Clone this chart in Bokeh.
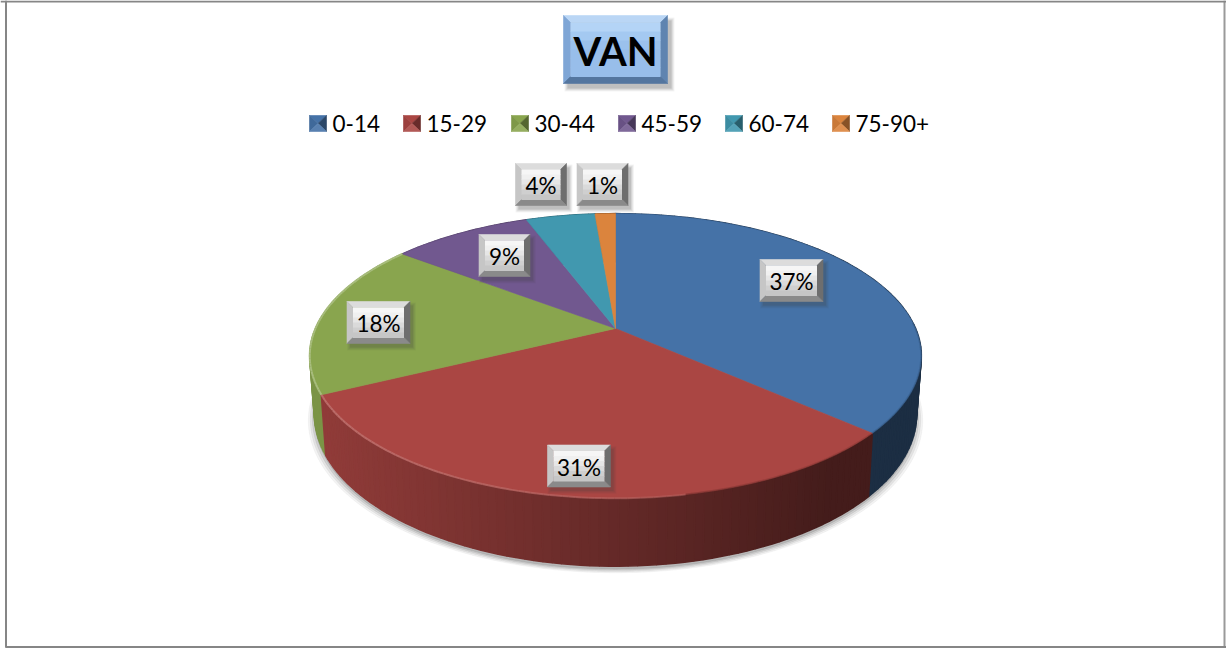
import math
from bokeh.plotting import figure
from bokeh.models import Range1d
from bokeh.core.properties import value
from bokeh.embed import file_html
from bokeh.resources import INLINE

# ---- data ----
title = "VAN"
categories = ["0-14", "15-29", "30-44", "45-59", "60-74", "75-90+"]
shares = [36.6, 31.1, 17.7, 8.9, 4.4, 1.3]
colors = ["#4572A7", "#AA4643", "#89A54E", "#71588F", "#4198AF", "#DB843D"]

# ---- layout (reference pixels) ----
W, H = 1226, 648
FONT = "Lato"
label_centres = [(791, 280), (578.5, 465.5), (378, 322), (504, 255), (540.5, 184), (602, 184)]
legend_x = [309, 403, 511, 618, 725, 832]
legend_y = 115
CX, CY, A, B, K = 615.0, 328.0, 300.0, 137.0, 0.193


def rgb(h):
    return tuple(int(h[i:i + 2], 16) for i in (1, 3, 5))


def shade(h, f):
    r = rgb(h)
    if f <= 1:
        c = [v * f for v in r]
    else:
        c = [v + (255 - v) * (f - 1) for v in r]
    return "#%02x%02x%02x" % tuple(int(round(v)) for v in c)


def top_pt(theta):
    X, Y = math.sin(theta), math.cos(theta)
    w = 1 + K * Y
    return CX + A * X / w, CY - B * Y / w


def bottom_pt(q):
    return CX + (q[0] - CX) * 0.985, CY + (q[1] - CY) * 1.07 + 56


p = figure(width=W, height=H, x_range=Range1d(0, W), y_range=Range1d(H, 0),
           toolbar_location=None, output_backend="svg", min_border=0,
           outline_line_color=None, background_fill_color="white", border_fill_color="white")
p.axis.visible = False
p.grid.visible = False


def poly(xs, ys, color, alpha=1.0, lw=0.6):
    p.patch(xs, ys, fill_color=color, fill_alpha=alpha, line_color=color, line_alpha=alpha, line_width=lw)


def rect_bevel(x0, y0, x1, y1, b, top, left, right, bottom, centre):
    poly([x0, x1, x1 - b, x0 + b], [y0, y0, y0 + b, y0 + b], top)
    poly([x0, x0 + b, x0 + b, x0], [y0, y0 + b, y1 - b, y1], left)
    poly([x1, x1 - b, x1 - b, x1], [y0, y0 + b, y1 - b, y1], right)
    poly([x0, x1, x1 - b, x0 + b], [y1, y1, y1 - b, y1 - b], bottom)
    n = len(centre)
    h = (y1 - y0 - 2 * b) / n
    for i, c in enumerate(centre):
        ya = y0 + b + i * h
        p.quad(left=x0 + b, right=x1 - b, top=ya, bottom=ya + h + 0.5, fill_color=c, line_color=None)


def soft_shadow(x0, y0, x1, y1, dx=4, dy=5):
    for g, a in ((3, 0.06), (2, 0.08), (1, 0.10), (0, 0.14)):
        p.quad(left=x0 + dx - g, right=x1 + dx + g, top=y0 + dy - g, bottom=y1 + dy + g,
               fill_color="#404040", fill_alpha=a, line_color=None)


# ---- frame ----
p.line([5.5, 5.5], [0, 647], line_color="#868686", line_width=2)
p.line([1224, 1224], [0, 647], line_color="#9a9a9a", line_width=2)
p.line([0, W], [1, 1], line_color="#868686", line_width=2)
p.line([5, W], [646.5, 646.5], line_color="#868686", line_width=2)

# ---- pie geometry from the shares ----
total = sum(shares)
edges = [0.0]
for s in shares:
    edges.append(edges[-1] + s / total * 2 * math.pi)
ring = [2 * math.pi * i / 360 for i in range(360)]

# shadow beneath the body
for g, a in ((6, 0.07), (4, 0.10), (2, 0.14), (0, 0.20)):
    pts = [bottom_pt(top_pt(t)) for t in ring]
    poly([CX + (q[0] - CX) * (1 + g / 300) for q in pts],
         [q[1] + 3 + g * 0.6 for q in pts], "#555555", a)

# side wall: small steps inside every slice, painted back to front
walls = []
for i, col in enumerate(colors):
    n = max(2, int(round((edges[i + 1] - edges[i]) / math.radians(1.5))))
    for j in range(n):
        t0 = edges[i] + (edges[i + 1] - edges[i]) * j / n
        t1 = edges[i] + (edges[i + 1] - edges[i]) * (j + 1) / n
        walls.append((math.cos((t0 + t1) / 2), i, t0, t1))
walls.sort(key=lambda w: -w[0])
for _, i, t0, t1 in walls:
    a, b = top_pt(t0), top_pt(t1)
    c, d = bottom_pt(b), bottom_pt(a)
    frac = ((a[0] + b[0]) / 2 - 310) / 612
    f = 0.86 - 0.46 * min(1.0, frac / 0.85)
    if i == 2:
        f = 0.9
    poly([a[0], b[0], c[0], d[0]], [a[1], b[1], c[1], d[1]], shade(colors[i], f), lw=1.6)

# top faces
for i, col in enumerate(colors):
    n = max(2, int(math.degrees(edges[i + 1] - edges[i])))
    arc = [top_pt(edges[i] + (edges[i + 1] - edges[i]) * j / n) for j in range(n + 1)]
    poly([CX] + [q[0] for q in arc], [CY] + [q[1] for q in arc], col)

# rim highlight along the front of the pie
for i in (0, 1, 2):
    n = max(2, int(math.degrees(edges[i + 1] - edges[i])))
    for j in range(n):
        t0 = edges[i] + (edges[i + 1] - edges[i]) * j / n
        t1 = edges[i] + (edges[i + 1] - edges[i]) * (j + 1) / n
        a, b = top_pt(t0), top_pt(t1)
        if math.cos(t0) > 0.05 and i != 2:
            continue
        frac = (a[0] - 310) / 612
        if i == 2:
            lc, la = shade(colors[i], 1.3), 0.9
        else:
            lc, la = shade(colors[i], 1.22 if frac < 0.62 else 0.6), max(0.25, 0.95 - frac * 0.9)
        p.line([a[0], b[0]], [a[1], b[1]], line_color=lc, line_alpha=la, line_width=2)

# ---- title box ----
soft_shadow(563, 15, 667, 83)
rect_bevel(563, 15, 667, 83, 7, "#BAD6F5", "#7FA6D6", "#5F84B0", "#54769F",
           ["#B4D4F6", "#A4C9F1", "#9BC1EC", "#98BEEA", "#98BEEA", "#98BEEA"])
p.text([615], [50], text=[title], text_font=value(FONT), text_font_style="bold", text_font_size="40px",
       text_align="center", text_baseline="middle", text_color="black")

# ---- legend ----
for x, name, col in zip(legend_x, categories, colors):
    x1, y1 = x + 17, legend_y + 16
    mx, my = x + 8.5, legend_y + 8
    poly([x, x1, mx], [legend_y, legend_y, my], shade(col, 1.0))
    poly([x, x, mx], [legend_y, y1, my], shade(col, 0.92))
    poly([x1, x1, mx], [legend_y, y1, my], shade(col, 0.62))
    poly([x, x1, mx], [y1, y1, my], shade(col, 1.1))
    p.text([x + 23], [legend_y + 8], text=[name], text_font=value(FONT), text_font_size="22.5px",
           text_align="left", text_baseline="middle", text_color="black")

# ---- data labels ----
for (cx, cy), s in zip(label_centres, shares):
    txt = "%.0f%%" % s
    w, h = (63 if len(txt) == 3 else 51), 42
    x0, x1, y0, y1 = cx - w / 2, cx + w / 2, cy - h / 2, cy + h / 2
    soft_shadow(x0, y0, x1, y1, 3, 4)
    rect_bevel(x0, y0, x1, y1, 6, "#DCDCDC", "#C6C6C6", "#6E6E6E", "#8A8A8A",
               ["#F6F6F6", "#F0F0F0", "#E6E6E6", "#DADADA", "#CFCFCF", "#C6C6C6"])
    p.text([cx], [cy + 1], text=[txt], text_font=value(FONT), text_font_size="22.5px",
           text_align="center", text_baseline="middle", text_color="black")

open("out.html", "w").write(file_html(p, INLINE))
